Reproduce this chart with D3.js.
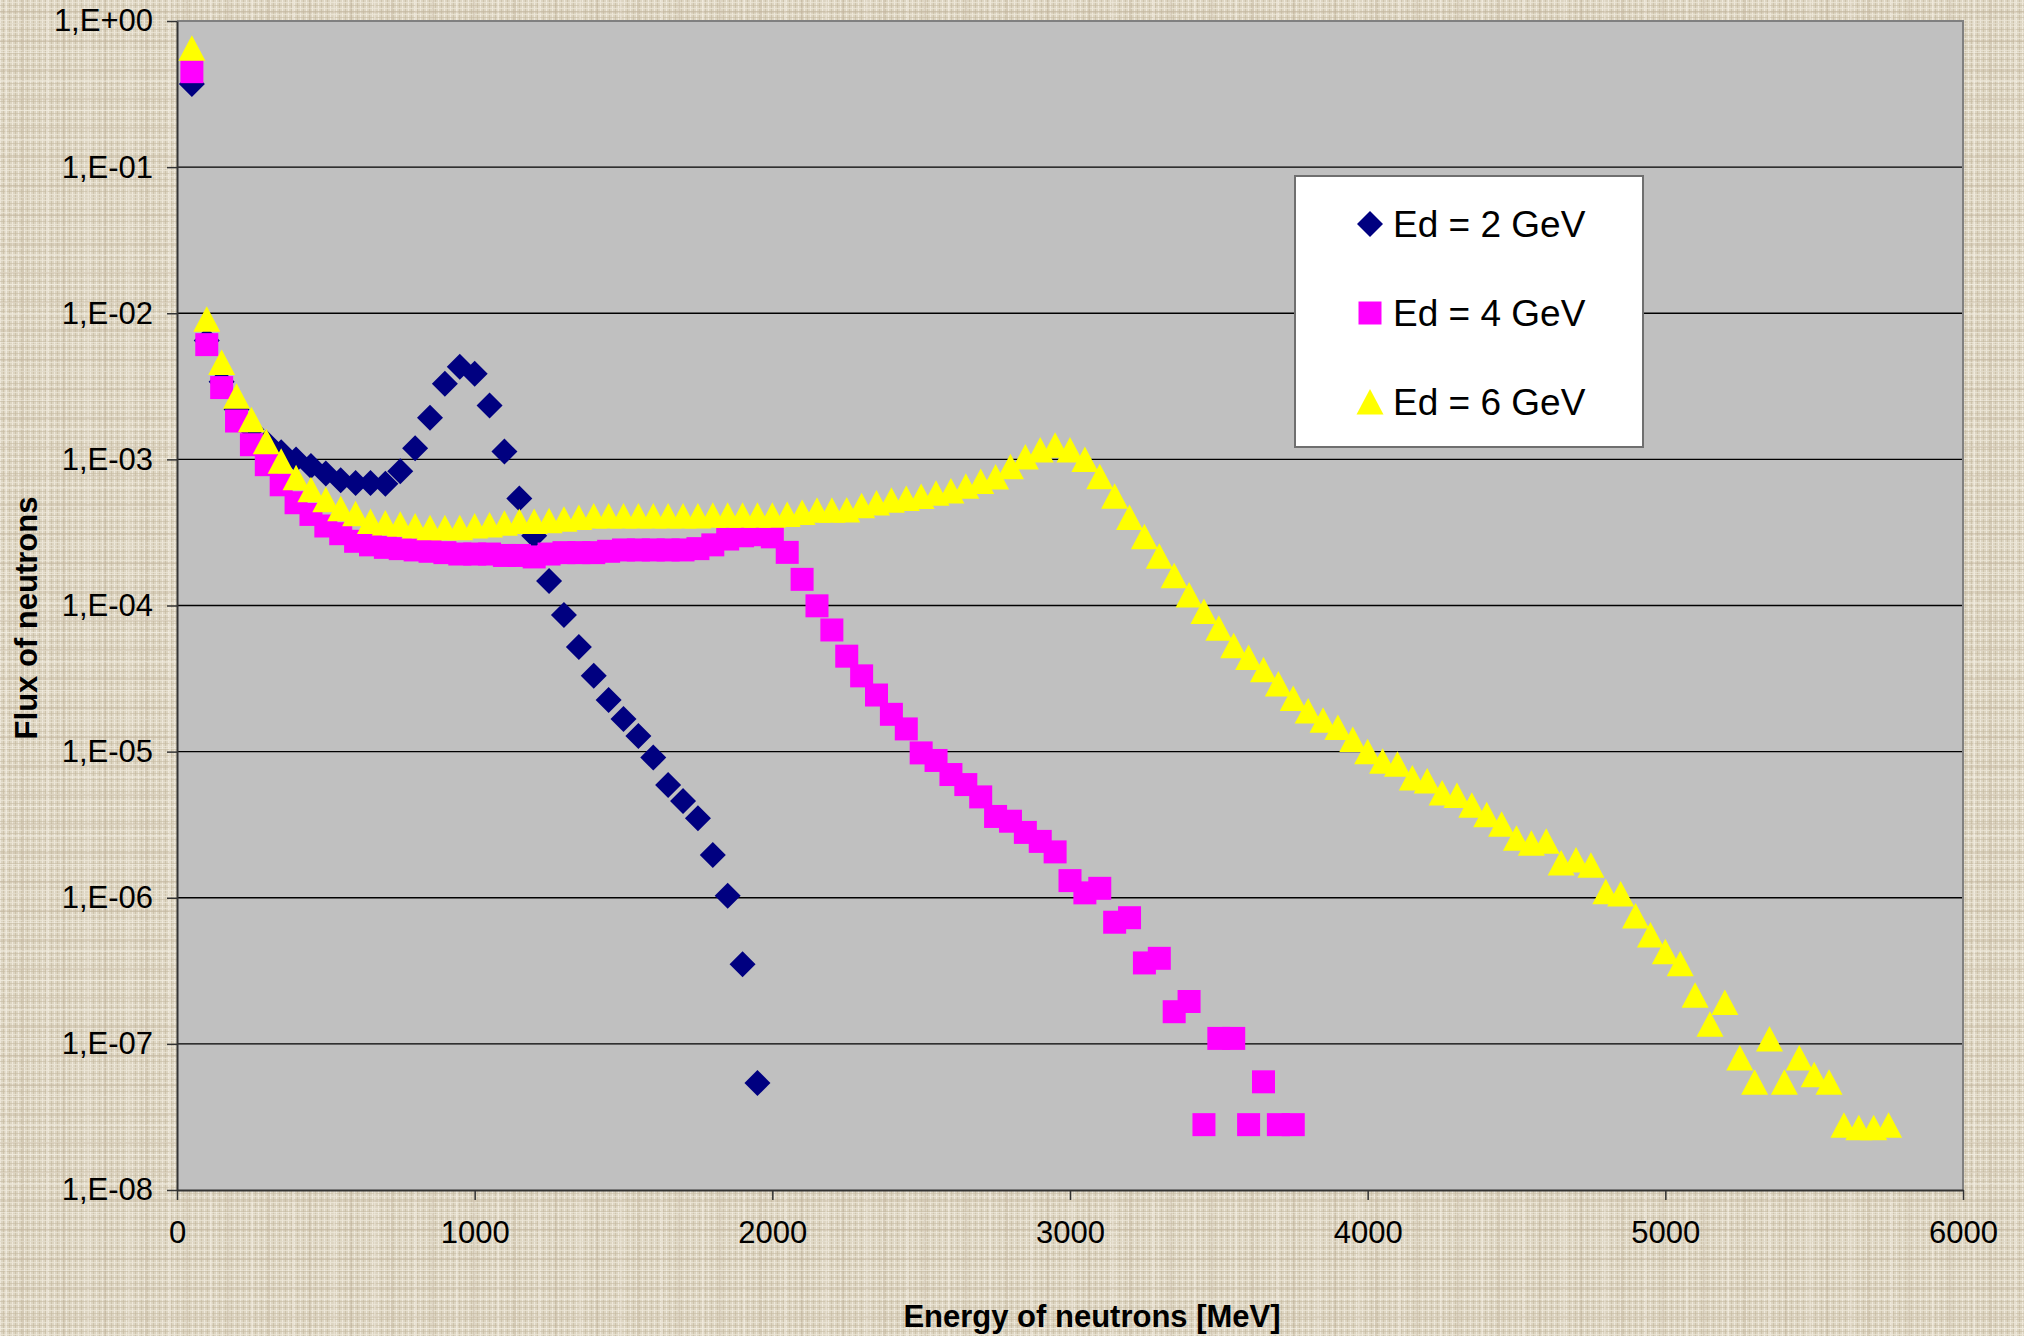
<!DOCTYPE html>
<html>
<head>
<meta charset="utf-8">
<script src="https://cdn.jsdelivr.net/npm/d3@7"></script>
<style>
  body { margin: 0; background: #dcd3bf; }
  svg text { font-family: "Liberation Sans", Arial, sans-serif; }
</style>
</head>
<body>
<div id="chart"></div>
<script>
// neutron energy [MeV], one bin every 50 MeV
const energies = [
  50, 100, 150, 200, 250, 300, 350, 400, 450, 500, 550, 600, 650, 700, 750, 800, 850, 900, 950, 1000,
  1050, 1100, 1150, 1200, 1250, 1300, 1350, 1400, 1450, 1500, 1550, 1600, 1650, 1700, 1750, 1800, 1850, 1900, 1950, 2000,
  2050, 2100, 2150, 2200, 2250, 2300, 2350, 2400, 2450, 2500, 2550, 2600, 2650, 2700, 2750, 2800, 2850, 2900, 2950, 3000,
  3050, 3100, 3150, 3200, 3250, 3300, 3350, 3400, 3450, 3500, 3550, 3600, 3650, 3700, 3750, 3800, 3850, 3900, 3950, 4000,
  4050, 4100, 4150, 4200, 4250, 4300, 4350, 4400, 4450, 4500, 4550, 4600, 4650, 4700, 4750, 4800, 4850, 4900, 4950, 5000,
  5050, 5100, 5150, 5200, 5250, 5300, 5350, 5400, 5450, 5500, 5550, 5600, 5650, 5700, 5750
];

const flux2GeV = [
  0.37, 6.5e-3, 3.4e-3, 2.2e-3, 1.6e-3, 1.3e-3, 1.12e-3, 1.0e-3, 9.0e-4, 8.0e-4,
  7.2e-4, 6.9e-4, 6.9e-4, 6.8e-4, 8.3e-4, 1.19e-3, 1.93e-3, 3.29e-3, 4.3e-3, 3.85e-3,
  2.34e-3, 1.13e-3, 5.4e-4, 3.0e-4, 1.47e-4, 8.6e-5, 5.2e-5, 3.3e-5, 2.26e-5, 1.67e-5,
  1.28e-5, 9.1e-6, 5.9e-6, 4.6e-6, 3.5e-6, 1.96e-6, 1.03e-6, 3.5e-7, 5.4e-8
];

const flux4GeV = [
  0.45, 6.1e-3, 3.1e-3, 1.83e-3, 1.26e-3, 9.2e-4, 6.7e-4, 5.05e-4, 4.2e-4, 3.5e-4,
  3.1e-4, 2.75e-4, 2.6e-4, 2.5e-4, 2.45e-4, 2.4e-4, 2.35e-4, 2.3e-4, 2.25e-4, 2.25e-4,
  2.25e-4, 2.2e-4, 2.2e-4, 2.15e-4, 2.25e-4, 2.3e-4, 2.3e-4, 2.3e-4, 2.35e-4, 2.4e-4,
  2.4e-4, 2.4e-4, 2.4e-4, 2.4e-4, 2.45e-4, 2.6e-4, 2.85e-4, 3.0e-4, 3.05e-4, 2.95e-4,
  2.31e-4, 1.51e-4, 9.95e-5, 6.8e-5, 4.5e-5, 3.3e-5, 2.44e-5, 1.8e-5, 1.43e-5, 9.8e-6,
  8.7e-6, 6.97e-6, 5.95e-6, 4.9e-6, 3.6e-6, 3.34e-6, 2.8e-6, 2.43e-6, 2.06e-6, 1.31e-6,
  1.08e-6, 1.16e-6, 6.8e-7, 7.3e-7, 3.58e-7, 3.85e-7, 1.66e-7, 1.95e-7, 2.8e-8, 1.09e-7,
  1.09e-7, 2.8e-8, 5.5e-8, 2.8e-8, 2.8e-8
];

const flux6GeV = [
  0.65, 9.1e-3, 4.6e-3, 2.7e-3, 1.87e-3, 1.32e-3, 9.7e-4, 7.5e-4, 6.2e-4, 5.3e-4,
  4.6e-4, 4.25e-4, 3.75e-4, 3.67e-4, 3.6e-4, 3.5e-4, 3.4e-4, 3.4e-4, 3.4e-4, 3.5e-4,
  3.55e-4, 3.65e-4, 3.75e-4, 3.75e-4, 3.8e-4, 3.9e-4, 4.0e-4, 4.1e-4, 4.1e-4, 4.1e-4,
  4.1e-4, 4.1e-4, 4.1e-4, 4.1e-4, 4.1e-4, 4.14e-4, 4.14e-4, 4.14e-4, 4.14e-4, 4.14e-4,
  4.2e-4, 4.33e-4, 4.48e-4, 4.48e-4, 4.5e-4, 4.82e-4, 5.03e-4, 5.25e-4, 5.4e-4, 5.58e-4,
  5.86e-4, 6.08e-4, 6.54e-4, 7.07e-4, 7.57e-4, 8.9e-4, 1.04e-3, 1.16e-3, 1.25e-3, 1.16e-3,
  1.0e-3, 7.6e-4, 5.6e-4, 4.0e-4, 2.95e-4, 2.17e-4, 1.6e-4, 1.18e-4, 9.1e-5, 7.0e-5,
  5.3e-5, 4.4e-5, 3.63e-5, 2.9e-5, 2.31e-5, 1.9e-5, 1.64e-5, 1.46e-5, 1.21e-5, 1.0e-5,
  8.6e-6, 8.2e-6, 6.6e-6, 6.3e-6, 5.2e-6, 5.0e-6, 4.3e-6, 3.7e-6, 3.19e-6, 2.55e-6,
  2.36e-6, 2.44e-6, 1.73e-6, 1.81e-6, 1.67e-6, 1.1e-6, 1.06e-6, 7.5e-7, 5.55e-7, 4.27e-7,
  3.53e-7, 2.15e-7, 1.36e-7, 1.92e-7, 8.0e-8, 5.47e-8, 1.08e-7, 5.47e-8, 8.0e-8, 6.15e-8,
  5.47e-8, 2.77e-8, 2.67e-8, 2.67e-8, 2.77e-8
];

const seriesNames = ["Ed = 2 GeV", "Ed = 4 GeV", "Ed = 6 GeV"];
const xTicks = [0, 1000, 2000, 3000, 4000, 5000, 6000];
const yTicks = [1, 1e-1, 1e-2, 1e-3, 1e-4, 1e-5, 1e-6, 1e-7, 1e-8];
const yTickLabels = ["1,E+00", "1,E-01", "1,E-02", "1,E-03", "1,E-04", "1,E-05", "1,E-06", "1,E-07", "1,E-08"];

const width = 2024;
const height = 1336;
const plot = { left: 177, right: 1963, top: 21, bottom: 1190 };

// marker shapes, centred on the data point
const markers = {
  diamond: "M0,-13L13,0L0,13L-13,0Z",
  square: "M-11.5,-11.5H11.5V11.5H-11.5Z",
  triangle: "M0,-13L13.5,12.5L-13.5,12.5Z",
};

const series = [
  { name: seriesNames[0], values: flux2GeV, shape: markers.diamond, color: "#000080" },
  { name: seriesNames[1], values: flux4GeV, shape: markers.square, color: "#FF00FF" },
  { name: seriesNames[2], values: flux6GeV, shape: markers.triangle, color: "#FFFF00" },
];

let svg = d3
  .select("#chart")
  .append("svg")
  .attr("width", width)
  .attr("height", height);

// linen-like background
let defs = svg.append("defs");
let pat = defs
  .append("pattern")
  .attr("id", "linen")
  .attr("patternUnits", "userSpaceOnUse")
  .attr("width", 6)
  .attr("height", 6);
pat.append("rect").attr("width", 6).attr("height", 6).attr("fill", "#ddd5c2");
pat.append("rect").attr("x", 0).attr("width", 1).attr("height", 6).attr("fill", "#eee8db");
pat.append("rect").attr("x", 3).attr("width", 1).attr("height", 6).attr("fill", "#cabea6").attr("opacity", 0.8);
pat.append("rect").attr("y", 2).attr("width", 6).attr("height", 1).attr("fill", "#ebe5d6").attr("opacity", 0.8);
pat.append("rect").attr("y", 5).attr("width", 6).attr("height", 1).attr("fill", "#c8bca3").attr("opacity", 0.6);

let pat2 = defs
  .append("pattern")
  .attr("id", "linen2")
  .attr("patternUnits", "userSpaceOnUse")
  .attr("width", 41)
  .attr("height", 29);
pat2.append("rect").attr("x", 5).attr("width", 2).attr("height", 29).attr("fill", "#f2ecdf").attr("opacity", 0.5);
pat2.append("rect").attr("x", 22).attr("width", 2).attr("height", 29).attr("fill", "#bfb299").attr("opacity", 0.35);
pat2.append("rect").attr("y", 11).attr("width", 41).attr("height", 2).attr("fill", "#c2b59c").attr("opacity", 0.35);
pat2.append("rect").attr("y", 23).attr("width", 41).attr("height", 1).attr("fill", "#f4efe3").attr("opacity", 0.5);

svg.append("rect").attr("width", width).attr("height", height).attr("fill", "url(#linen)");
svg.append("rect").attr("width", width).attr("height", height).attr("fill", "url(#linen2)");

let xScale = d3.scaleLinear().domain([0, 6000]).range([plot.left, plot.right]);
let yScale = d3.scaleLog().domain([1e-8, 1]).range([plot.bottom, plot.top]);

// plot area
svg
  .append("rect")
  .attr("x", plot.left)
  .attr("y", plot.top)
  .attr("width", plot.right - plot.left)
  .attr("height", plot.bottom - plot.top)
  .attr("fill", "#C0C0C0");

// horizontal gridlines
svg
  .append("g")
  .selectAll("line")
  .data(yTicks.slice(1, -1))
  .join("line")
  .attr("x1", plot.left)
  .attr("x2", plot.right)
  .attr("y1", (d) => yScale(d))
  .attr("y2", (d) => yScale(d))
  .attr("stroke", "#000")
  .attr("stroke-width", 1.3);

// top / right border of plot area
svg
  .append("path")
  .attr("d", `M${plot.left},${plot.top}H${plot.right}V${plot.bottom}`)
  .attr("fill", "none")
  .attr("stroke", "#808080")
  .attr("stroke-width", 2);

// axes
let yAxis = d3
  .axisLeft(yScale)
  .tickValues(yTicks)
  .tickFormat((d, i) => yTickLabels[i])
  .tickSize(10)
  .tickSizeOuter(0)
  .tickPadding(14);
let gY = svg.append("g").attr("transform", "translate(" + plot.left + ",0)").call(yAxis);

let xAxis = d3
  .axisBottom(xScale)
  .tickValues(xTicks)
  .tickFormat(d3.format("d"))
  .tickSize(10)
  .tickSizeOuter(0)
  .tickPadding(21);
let gX = svg.append("g").attr("transform", "translate(0," + plot.bottom + ")").call(xAxis);

[gX, gY].forEach((g) => {
  g.select(".domain").attr("stroke", "#333").attr("stroke-width", 2);
  g.selectAll(".tick line").attr("stroke", "#333").attr("stroke-width", 1.5);
  g.selectAll(".tick text")
    .attr("fill", "#000")
    .style("font-size", "31px")
    .style("font-family", '"Liberation Sans", Arial, sans-serif');
});

// data markers, drawn series by series
series.forEach((s) => {
  svg
    .append("g")
    .selectAll("path")
    .data(d3.zip(energies.slice(0, s.values.length), s.values))
    .join("path")
    .attr("transform", (d) => "translate(" + xScale(d[0]) + "," + yScale(d[1]) + ")")
    .attr("d", s.shape)
    .attr("fill", s.color);
});

// legend
let legend = svg.append("g");
legend
  .append("rect")
  .attr("x", 1295)
  .attr("y", 176)
  .attr("width", 348)
  .attr("height", 271)
  .attr("fill", "#fff")
  .attr("stroke", "#6f6f6f")
  .attr("stroke-width", 2);

let items = legend
  .selectAll("g.item")
  .data(series)
  .join("g")
  .attr("class", "item")
  .attr("transform", (d, i) => "translate(1370," + (224 + i * 89) + ")");
items.append("path").attr("d", (d) => d.shape).attr("fill", (d) => d.color);
items
  .append("text")
  .attr("x", 23)
  .attr("y", 13)
  .style("font-size", "37px")
  .attr("fill", "#000")
  .text((d) => d.name);

// axis titles
svg
  .append("text")
  .attr("x", 1092)
  .attr("y", 1327)
  .attr("text-anchor", "middle")
  .style("font-size", "31px")
  .style("font-weight", "bold")
  .text("Energy of neutrons [MeV]");

svg
  .append("text")
  .attr("transform", "translate(37,618) rotate(-90)")
  .attr("text-anchor", "middle")
  .style("font-size", "31px")
  .style("font-weight", "bold")
  .text("Flux of neutrons");
</script>
</body>
</html>
